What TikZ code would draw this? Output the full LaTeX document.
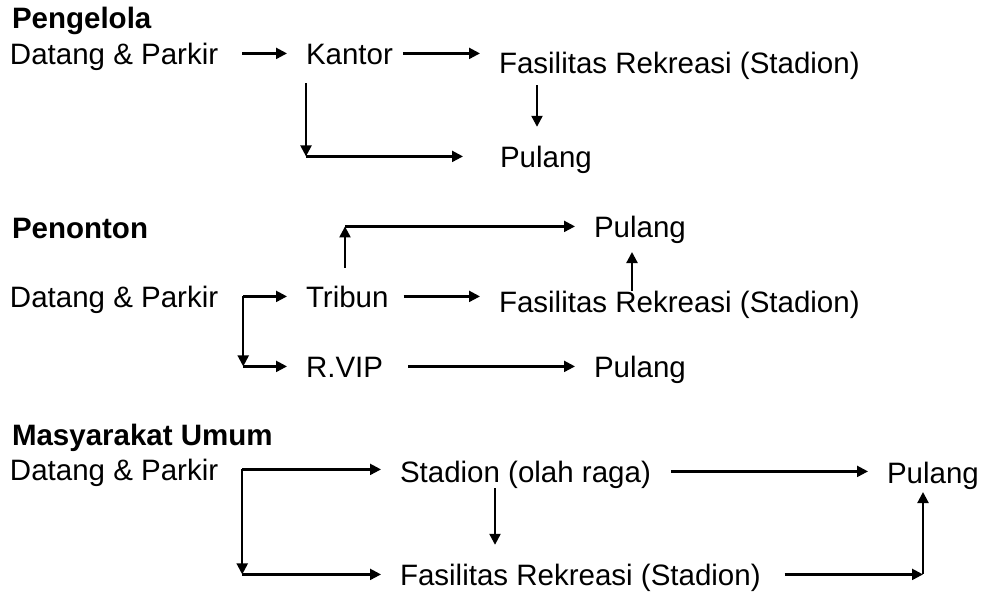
\documentclass[tikz,border=0pt]{standalone}
\usepackage{fontspec}
\setmainfont{Liberation Sans}
\usetikzlibrary{arrows.meta}
\usetikzlibrary{positioning}

\begin{document}
\begin{tikzpicture}[x=0.5pt,y=-0.5pt,>={Triangle[length=5.5pt,width=5.5pt]},
        lbl/.style={inner sep=0pt,outer sep=0pt,anchor=base west,text height=10.6pt,text depth=0pt,font=\fontsize{14.75pt}{17pt}\selectfont},
        head/.style={lbl,font=\fontsize{14.75pt}{17pt}\selectfont\bfseries},
        arr/.style={->,line width=1.1pt,shorten >=9.5pt,shorten <=9pt},
        elbow/.style={->,line width=1.1pt,shorten >=0pt,shorten <=0pt}]
    \useasboundingbox (0,0) rectangle (983,595);
        \node[head] (peng) at (12,28) {Pengelola};
        \node[lbl] (dat1) at (10,64) {Datang \& Parkir};
        \node[lbl] (kan1) at (306,64) {Kantor};
        \node[lbl] (fas1) at (499,73) {Fasilitas Rekreasi (Stadion)};
        \node[lbl] (pul1) at (500,167) {Pulang};
        \draw[arr,shorten <=12pt] (dat1) -- (kan1);
        \draw[arr,shorten <=5pt] (kan1) -- (kan1 -| fas1.west);
        \coordinate (b1) at (kan1.west |- pul1);
        \draw[elbow,shorten <=9.5pt] (kan1.south west) -- (b1);
        \draw[arr,shorten <=0pt,shorten >=18.5pt] (b1) -- (pul1);
        \draw[arr,shorten <=6pt] ([xshift=19pt]fas1.south west) -- ([xshift=19pt]fas1.south west |- pul1.north);

        \node[head] (pen) at (12,238) {Penonton};
        \node[lbl] (dat2) at (10,307) {Datang \& Parkir};
        \node[lbl] (trib) at (306,307) {Tribun};
        \node[lbl] (vip) at (306,377) {R.VIP};
        \node[lbl] (pul2) at (594,237) {Pulang};
        \node[lbl] (fas2) at (499,312) {Fasilitas Rekreasi (Stadion)};
        \node[lbl] (pul3) at (594,377) {Pulang};
        \coordinate (b2) at ([xshift=12.5pt]dat2.east);
        \draw[arr,shorten <=0pt] (b2) -- (trib);
        \draw[elbow] (b2) -- (b2 |- vip);
        \draw[arr,shorten <=0pt] (b2 |- vip) -- (vip);
        \coordinate (b3) at ([xshift=19.5pt]trib.north west |- pul2);
        \draw[elbow,shorten <=9pt] ([xshift=19.5pt]trib.north west) -- (b3);
        \draw[arr,shorten <=0pt] (b3) -- (pul2);
        \draw[arr,shorten <=7.5pt] (trib) -- (trib -| fas2.west);
        \draw[arr,shorten <=0pt,shorten >=7.5pt] ([xshift=66.5pt]fas2.north west) -- ([xshift=66.5pt]fas2.north west |- pul2.south);
        \draw[arr,shorten <=12.5pt] (vip) -- (pul3);

        \node[head] (masy) at (12,445) {Masyarakat Umum};
        \node[lbl] (dat3) at (10,480) {Datang \& Parkir};
        \node[lbl] (stad) at (400,482) {Stadion (olah raga)};
        \node[lbl] (fas3) at (400,585) {Fasilitas Rekreasi (Stadion)};
        \node[lbl] (pul4) at (887,483) {Pulang};
        \coordinate (b4) at ([xshift=12pt]dat3.east);
        \draw[arr,shorten <=0pt] (b4) -- (b4 -| stad.west);
        \draw[elbow] (b4) -- (b4 |- fas3);
        \draw[arr,shorten <=0pt] (b4 |- fas3) -- (fas3);
        \draw[arr,shorten <=3pt] ([xshift=47.5pt]stad.south west) -- ([xshift=47.5pt]stad.south west |- fas3.north);
        \draw[arr,shorten <=10pt] (stad) -- (stad -| pul4.west);
        \coordinate (b5) at ([xshift=18pt]pul4.south west |- fas3);
        \draw[elbow,shorten <=12pt] (fas3) -- (b5);
        \draw[arr,shorten <=0pt,shorten >=4.5pt] (b5) -- (b5 |- pul4.south);
\end{tikzpicture}
\end{document}
